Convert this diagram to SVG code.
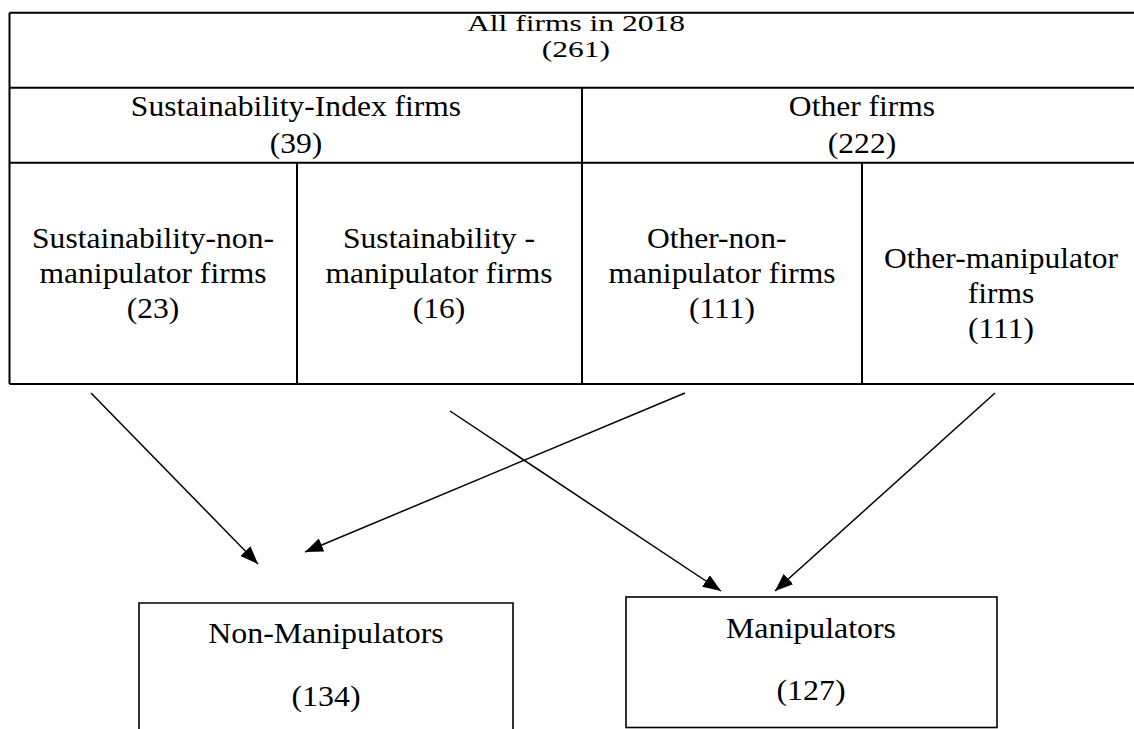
<svg xmlns="http://www.w3.org/2000/svg" width="1134" height="729" viewBox="0 0 1134 729">
<style>
.t{font-family:"Liberation Serif","Times New Roman",serif;fill:#000;text-anchor:middle}
.r1{font-size:23px}
.r2{font-size:29.5px}
.r3{font-size:29px}
.grid{stroke:#000;stroke-width:2;fill:none}
.box{stroke:#000;stroke-width:1.6;fill:#fff}
.conn{stroke:#000;stroke-width:1.5;fill:none}
</style>
<defs>
<marker id="ah" markerUnits="userSpaceOnUse" markerWidth="19" markerHeight="15" refX="18" refY="7" orient="auto">
<path d="M0,0 L18,7 L0,14 z" fill="#000"/>
</marker>
</defs>
<rect width="1134" height="729" fill="#fff"/>
<g id="table-grid" class="grid">
<line x1="9.5" y1="12.7" x2="1134" y2="12.7"/>
<line x1="9.5" y1="12.7" x2="9.5" y2="384"/>
<line x1="9.5" y1="87.7" x2="1134" y2="87.7"/>
<line x1="9.5" y1="162.7" x2="1134" y2="162.7"/>
<line x1="9.5" y1="384" x2="1134" y2="384"/>
<line x1="582" y1="87.7" x2="582" y2="384"/>
<line x1="297" y1="162.7" x2="297" y2="384"/>
<line x1="862" y1="162.7" x2="862" y2="384"/>
</g>
<g id="all-firms" transform="translate(576,0) scale(1.37,1)">
<text class="t r1"><tspan x="0" y="31.5">All firms in 2018</tspan><tspan x="0" y="57">(261)</tspan></text>
</g>
<g id="sustainability-index" transform="translate(296,0) scale(1.07,1)">
<text class="t r2"><tspan x="0" y="116.5">Sustainability-Index firms</tspan><tspan x="0" y="153">(39)</tspan></text>
</g>
<g id="other-firms" transform="translate(862,0) scale(1.07,1)">
<text class="t r2"><tspan x="0" y="116.5">Other firms</tspan><tspan x="0" y="153">(222)</tspan></text>
</g>
<g id="sust-non-manip" transform="translate(153,0) scale(1.07,1)">
<text class="t r2"><tspan x="0" y="248">Sustainability-non-</tspan><tspan x="0" y="283">manipulator firms</tspan><tspan x="0" y="318">(23)</tspan></text>
</g>
<g id="sust-manip" transform="translate(439,0) scale(1.07,1)">
<text class="t r2"><tspan x="0" y="248">Sustainability -</tspan><tspan x="0" y="283">manipulator firms</tspan><tspan x="0" y="318">(16)</tspan></text>
</g>
<g id="other-non-manip" transform="translate(722,0) scale(1.07,1)">
<text class="t r2"><tspan x="-5" y="248">Other-non-</tspan><tspan x="0" y="283">manipulator firms</tspan><tspan x="0" y="318">(111)</tspan></text>
</g>
<g id="other-manip" transform="translate(1001,0) scale(1.07,1)">
<text class="t r2"><tspan x="0" y="268">Other-manipulator</tspan><tspan x="0" y="303">firms</tspan><tspan x="0" y="338">(111)</tspan></text>
</g>
<g id="non-manipulators">
<path class="box" d="M139,740 L139,603 L513,603 L513,740"/>
<g transform="translate(326,0) scale(1.1,1)">
<text class="t r3"><tspan x="0" y="643">Non-Manipulators</tspan><tspan x="0" y="706">(134)</tspan></text>
</g>
</g>
<g id="manipulators">
<rect class="box" x="626" y="597" width="371" height="130.5"/>
<g transform="translate(811,0) scale(1.1,1)">
<text class="t r3"><tspan x="0" y="638">Manipulators</tspan><tspan x="0" y="700">(127)</tspan></text>
</g>
</g>
<g id="connectors" class="conn">
<line x1="91" y1="393" x2="258" y2="564" marker-end="url(#ah)"/>
<line x1="685" y1="393" x2="305" y2="552" marker-end="url(#ah)"/>
<line x1="450" y1="411" x2="721" y2="591" marker-end="url(#ah)"/>
<line x1="995" y1="393" x2="775" y2="591" marker-end="url(#ah)"/>
</g>
</svg>
